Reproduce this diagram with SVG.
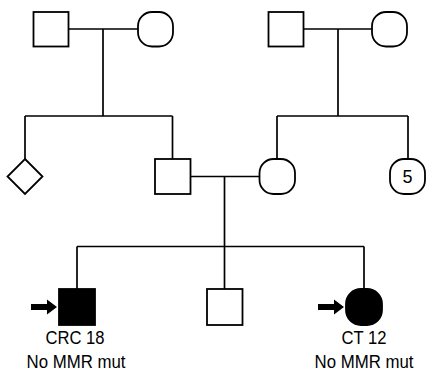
<svg xmlns="http://www.w3.org/2000/svg" width="427" height="374" viewBox="0 0 427 374">
<style>
.n{fill:#fff;stroke:#000;stroke-width:1.8}
.a{fill:#000;stroke:#000;stroke-width:1.8}
.l{stroke:#000;stroke-width:1.7;fill:none}
.t{font-family:"Liberation Sans",Arial,sans-serif;font-size:18px;text-anchor:middle;fill:#000}
</style>
<rect width="427" height="374" fill="#fff"/>
<g id="connectors">
<path class="l" d="M68.5,29H138M103,29V116M25,116H172.5M25,116V159M172.5,116V159"/>
<path class="l" d="M303.5,29H372M338,29V116M277,116H408M277,116V159M408,116V159"/>
<path class="l" d="M190.5,176.5H259.5M224.5,176.5V289M77,246.5H364M77,246.5V289M364,246.5V289"/>
</g>
<g id="gf1"><rect class="n" x="33.5" y="12" width="35" height="34.5"/></g>
<g id="gm1"><rect class="n" x="138" y="12" width="35" height="34.5" rx="14"/></g>
<g id="gf2"><rect class="n" x="268.5" y="12" width="35" height="34.5"/></g>
<g id="gm2"><rect class="n" x="372" y="12" width="35" height="34.5" rx="14"/></g>
<g id="sib1"><polygon class="n" points="25,159 42.5,176.5 25,194 7.5,176.5"/></g>
<g id="father"><rect class="n" x="155" y="159" width="35.5" height="35"/></g>
<g id="mother"><rect class="n" x="259.5" y="159" width="35.5" height="35" rx="14"/></g>
<g id="sisters5"><rect class="n" x="390" y="159" width="35" height="35" rx="14"/><text class="t" x="407.5" y="183">5</text></g>
<g id="proband">
<rect class="a" x="59" y="289" width="36" height="36"/>
<path d="M31,304H49V310H31Z M47,299.5L57,307L47,314.5Z" fill="#000"/>
<text class="t" x="75" y="343.5" textLength="59" lengthAdjust="spacingAndGlyphs">CRC 18</text>
<text class="t" x="76" y="367.5" textLength="99" lengthAdjust="spacingAndGlyphs">No MMR mut</text>
</g>
<g id="brother"><rect class="n" x="207" y="289" width="35.5" height="36"/></g>
<g id="sister">
<rect class="a" x="346" y="289" width="36" height="36" rx="15"/>
<path d="M318,304H336V310H318Z M334,299.5L344,307L334,314.5Z" fill="#000"/>
<text class="t" x="364" y="343.5" textLength="45" lengthAdjust="spacingAndGlyphs">CT 12</text>
<text class="t" x="364" y="367.5" textLength="99" lengthAdjust="spacingAndGlyphs">No MMR mut</text>
</g>
</svg>
